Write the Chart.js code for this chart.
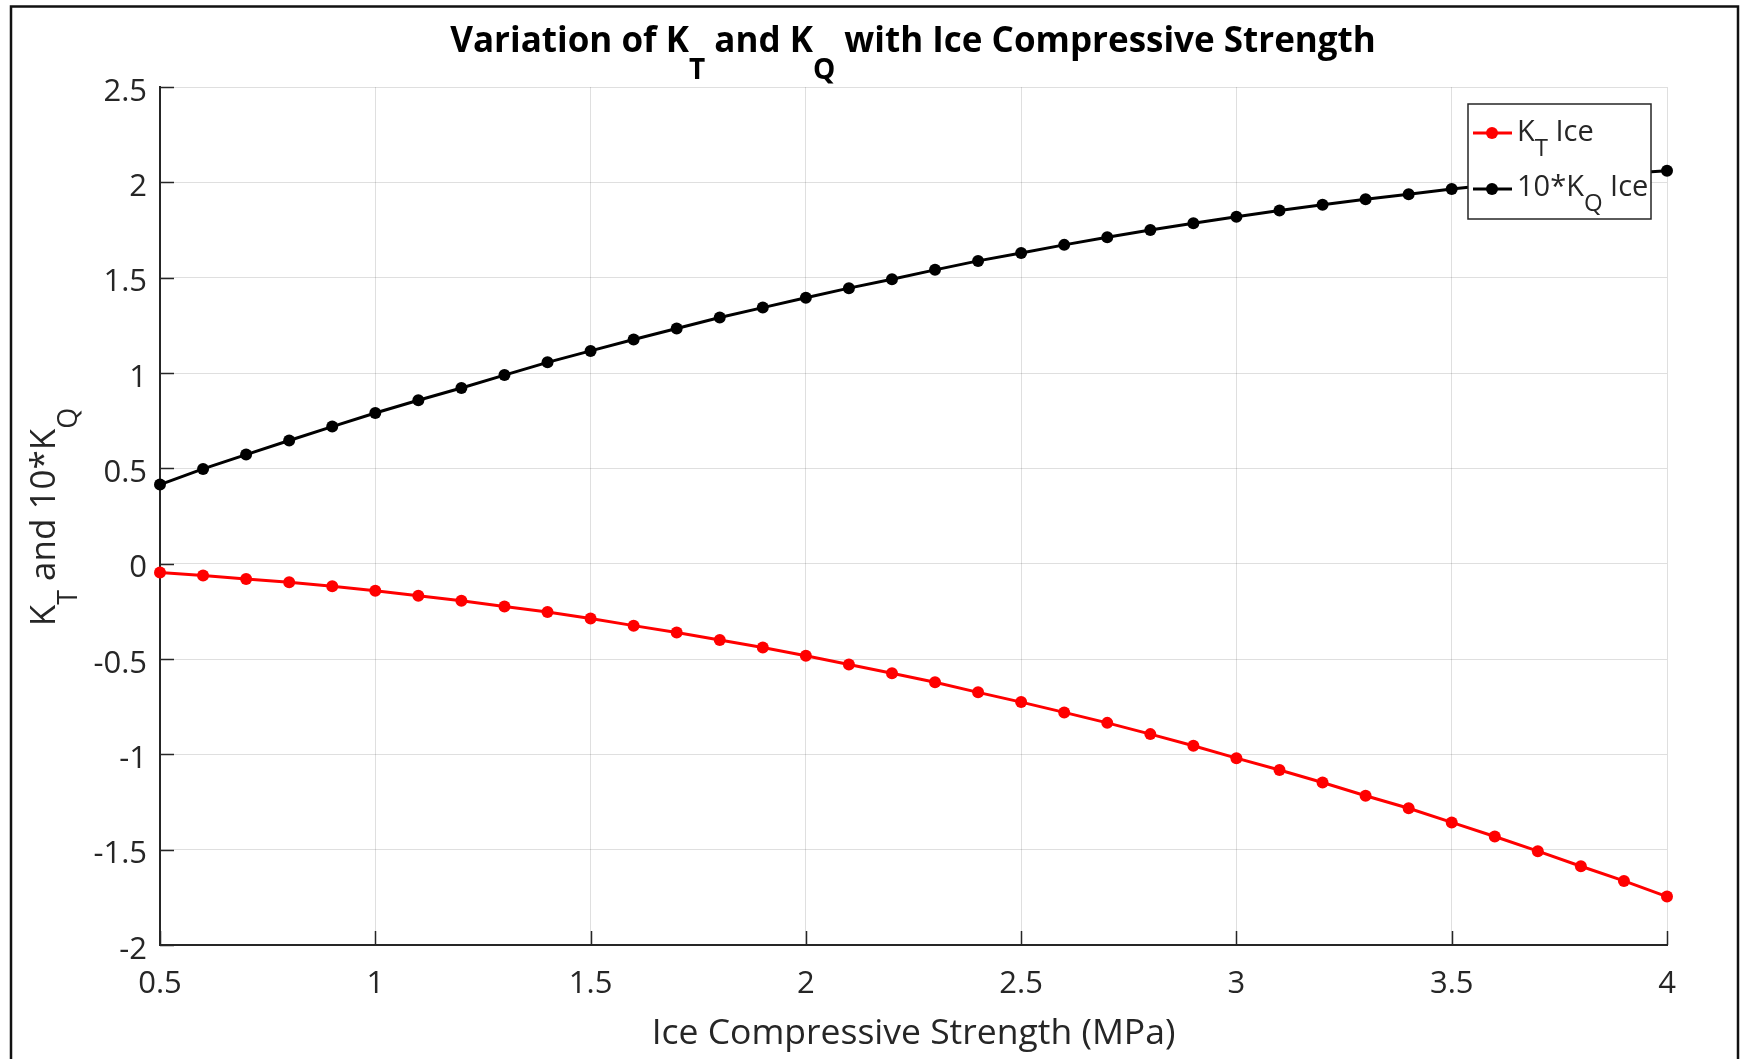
<!DOCTYPE html>
<html>
<head>
<meta charset="utf-8">
<script src="https://cdn.jsdelivr.net/npm/chart.js@4"></script>
<style>
  body { margin: 0; background: #fff; }
  canvas { display: block; }
</style>
</head>
<body>
<canvas id="chart" width="1742" height="1059"></canvas>
<script>
// ice compressive strength (MPa)
const strength = [0.5, 0.6, 0.7, 0.8, 0.9, 1.0, 1.1, 1.2, 1.3, 1.4, 1.5, 1.6, 1.7, 1.8, 1.9, 2.0, 2.1, 2.2,
  2.3, 2.4, 2.5, 2.6, 2.7, 2.8, 2.9, 3.0, 3.1, 3.2, 3.3, 3.4, 3.5, 3.6, 3.7, 3.8, 3.9, 4.0];

const ktIce = [-0.046, -0.062, -0.080, -0.098, -0.119, -0.142, -0.168, -0.195, -0.225, -0.254, -0.288, -0.325,
  -0.361, -0.400, -0.440, -0.483, -0.529, -0.575, -0.622, -0.675, -0.726, -0.780, -0.835, -0.894,
  -0.955, -1.020, -1.082, -1.148, -1.217, -1.283, -1.357, -1.431, -1.508, -1.587, -1.664, -1.746];

const kq10Ice = [0.415, 0.497, 0.572, 0.646, 0.719, 0.790, 0.857, 0.921, 0.989, 1.056, 1.116, 1.176,
  1.233, 1.291, 1.343, 1.395, 1.445, 1.492, 1.541, 1.588, 1.629, 1.672, 1.712, 1.750,
  1.785, 1.820, 1.852, 1.882, 1.911, 1.938, 1.965, 1.989, 2.011, 2.030, 2.046, 2.061];

const xTicks = [0.5, 1, 1.5, 2, 2.5, 3, 3.5, 4];
const yTicks = [-2, -1.5, -1, -0.5, 0, 0.5, 1, 1.5, 2, 2.5];

const FONT = '"Open Sans", "Noto Sans", sans-serif';
const AXIS = '#262626';

// text with subscripts: parts = [[text, isSub], ...]
function drawRich(ctx, parts, x, y, size, subSize, subDy, weight, align) {
  const fontOf = s => (weight || '') + ' ' + s + 'px ' + FONT;
  let w = 0;
  parts.forEach(p => {
    ctx.font = fontOf(p[1] ? subSize : size);
    w += ctx.measureText(p[0]).width;
  });
  let cx = align === 'left' ? x : x - w / 2;
  ctx.textAlign = 'left';
  ctx.textBaseline = 'alphabetic';
  parts.forEach(p => {
    ctx.font = fontOf(p[1] ? subSize : size);
    ctx.fillText(p[0], cx, p[1] ? y + subDy : y);
    cx += ctx.measureText(p[0]).width;
  });
}

const decorations = {
  id: 'decorations',
  beforeDatasetsDraw(chart) {
    const ctx = chart.ctx;
    const area = chart.chartArea;
    const xs = chart.scales.x, ys = chart.scales.y;
    ctx.save();
    ctx.strokeStyle = AXIS;
    ctx.lineWidth = 1.5;
    ctx.beginPath();
    xTicks.forEach(v => {
      const px = Math.round(xs.getPixelForValue(v)) + 0.5;
      ctx.moveTo(px, area.bottom);
      ctx.lineTo(px, area.bottom - 14);
    });
    yTicks.forEach(v => {
      const py = Math.round(ys.getPixelForValue(v)) + 0.5;
      ctx.moveTo(area.left, py);
      ctx.lineTo(area.left + 14, py);
    });
    ctx.stroke();
    ctx.restore();
  },
  afterDatasetsDraw(chart) {
    const ctx = chart.ctx;
    ctx.save();

    // legend box
    ctx.fillStyle = '#fff';
    ctx.fillRect(1468, 104, 183, 115);
    ctx.strokeStyle = AXIS;
    ctx.lineWidth = 1.5;
    ctx.strokeRect(1468, 104, 183, 115);
    const rows = [
      { color: '#ff0000', y: 133, base: 141, parts: [['K', false], ['T', true], [' Ice', false]] },
      { color: '#000000', y: 189, base: 196, parts: [['10*K', false], ['Q', true], [' Ice', false]] }
    ];
    rows.forEach(r => {
      ctx.strokeStyle = r.color;
      ctx.lineWidth = 3;
      ctx.beginPath();
      ctx.moveTo(1473, r.y);
      ctx.lineTo(1512, r.y);
      ctx.stroke();
      ctx.fillStyle = r.color;
      ctx.beginPath();
      ctx.arc(1492, r.y, 6, 0, Math.PI * 2);
      ctx.fill();
      ctx.fillStyle = AXIS;
      drawRich(ctx, r.parts, 1517, r.base, 29, 24, 15, '', 'left');
    });

    // title
    ctx.fillStyle = '#000';
    drawRich(ctx, [['Variation of K', false], ['T', true], [' and K', false], ['Q', true],
      [' with Ice Compressive Strength', false]], 913, 52, 35, 28, 27, 'bold', 'center');

    // y axis title
    ctx.fillStyle = AXIS;
    ctx.translate(55, 517);
    ctx.rotate(-Math.PI / 2);
    drawRich(ctx, [['K', false], ['T', true], [' and 10*K', false], ['Q', true]], 0, 0, 35, 27, 22, '', 'center');
    ctx.restore();

    // figure frame
    ctx.save();
    ctx.strokeStyle = '#111';
    ctx.lineWidth = 2.5;
    ctx.strokeRect(11, 6.5, 1727, 1080);
    ctx.restore();
  }
};

const toPoints = ys => strength.map((x, i) => ({ x: x, y: ys[i] }));

new Chart(document.getElementById('chart'), {
  type: 'line',
  data: {
    datasets: [
      {
        label: 'KT Ice',
        data: toPoints(ktIce),
        borderColor: '#ff0000',
        backgroundColor: '#ff0000',
        borderWidth: 3,
        pointRadius: 6,
        pointBorderWidth: 0,
        pointBackgroundColor: '#ff0000',
        tension: 0,
        clip: false
      },
      {
        label: '10*KQ Ice',
        data: toPoints(kq10Ice),
        borderColor: '#000000',
        backgroundColor: '#000000',
        borderWidth: 3,
        pointRadius: 6,
        pointBorderWidth: 0,
        pointBackgroundColor: '#000000',
        tension: 0,
        clip: false
      }
    ]
  },
  options: {
    responsive: false,
    animation: false,
    layout: { padding: { top: 87, right: 75, left: 0, bottom: 0 } },
    plugins: {
      legend: { display: false },
      title: { display: false },
      tooltip: { enabled: false }
    },
    scales: {
      x: {
        type: 'linear',
        min: 0.5,
        max: 4,
        afterBuildTicks: s => { s.ticks = xTicks.map(v => ({ value: v })); },
        afterFit: s => { s.height = 114; },
        ticks: {
          font: { family: FONT, size: 31 },
          color: AXIS,
          padding: 21,
          callback: v => String(v)
        },
        grid: { color: 'rgba(38,38,38,0.15)', drawTicks: false },
        border: { color: AXIS, width: 2 },
        title: {
          display: true,
          text: 'Ice Compressive Strength (MPa)',
          font: { family: FONT, size: 35.5 },
          color: AXIS,
          padding: { top: 0, bottom: 4 }
        }
      },
      y: {
        type: 'linear',
        min: -2,
        max: 2.5,
        afterBuildTicks: s => { s.ticks = yTicks.map(v => ({ value: v })); },
        afterFit: s => { s.width = 160; },
        ticks: {
          font: { family: FONT, size: 31 },
          color: AXIS,
          padding: 13,
          labelOffset: 5,
          callback: v => String(v)
        },
        grid: { color: 'rgba(38,38,38,0.15)', drawTicks: false },
        border: { color: AXIS, width: 2 }
      }
    }
  },
  plugins: [decorations]
});
</script>
</body>
</html>
